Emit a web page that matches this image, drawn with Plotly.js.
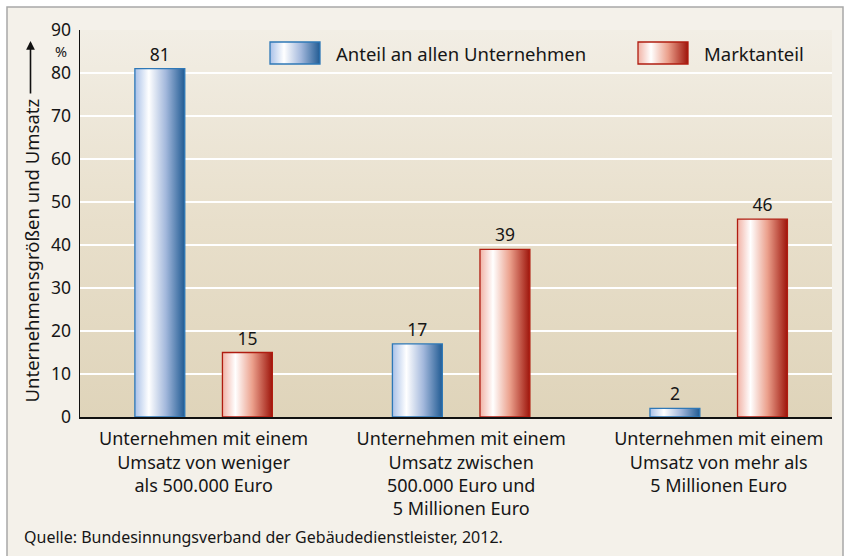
<!DOCTYPE html>
<html><head><meta charset="utf-8">
<script src="https://cdn.plot.ly/plotly-3.0.1.min.js"></script>
<style>html,body{margin:0;padding:0;background:#fff;} #chart{width:847px;height:556px;}</style>
</head><body><div id="chart"></div>
<script>
// ---- data ----
const categories = [
  "Unternehmen mit einem<br>Umsatz von weniger<br>als 500.000 Euro",
  "Unternehmen mit einem<br>Umsatz zwischen<br>500.000 Euro und<br>5 Millionen Euro",
  "Unternehmen mit einem<br>Umsatz von mehr als<br>5 Millionen Euro"
];
const anteilValues = [81, 17, 2];
const marktanteilValues = [15, 39, 46];
const seriesNames = ["Anteil an allen Unternehmen", "Marktanteil"];
const yTickValues = [0, 10, 20, 30, 40, 50, 60, 70, 80, 90];
const yUnit = "%";
const yAxisTitle = "Unternehmensgrößen und Umsatz";
const sourceNote = "Quelle: Bundesinnungsverband der Gebäudedienstleister, 2012.";

// ---- layout helpers (pixel -> paper) ----
const M = {l: 80, r: 15, t: 30, b: 139};
const W = 847, H = 556;
const PW = W - M.l - M.r, PH = H - M.t - M.b;
const px = x => (x - M.l) / PW;
const py = y => (H - M.b - y) / PH;

const FONT = '"Noto Sans", "Open Sans", sans-serif';
const TXT = '#161616';

const data = [
  {type: 'bar', name: seriesNames[0], x: categories, y: anteilValues,
   marker: {color: '#8eaad6', line: {color: '#2e78b7', width: 1.3}},
   texttemplate: '%{y}', textposition: 'outside', cliponaxis: false,
   textfont: {family: FONT, size: 17.5, color: TXT}, showlegend: false},
  {type: 'bar', name: seriesNames[1], x: categories, y: marktanteilValues,
   marker: {color: '#e0907c', line: {color: '#b01c10', width: 1.3}},
   texttemplate: '%{y}', textposition: 'outside', cliponaxis: false,
   textfont: {family: FONT, size: 17.5, color: TXT}, showlegend: false}
];

const layout = {
  width: W, height: H,
  margin: M,
  paper_bgcolor: '#f4f1ea',
  plot_bgcolor: '#e8e0cd',
  font: {family: FONT, size: 17.5, color: TXT},
  barmode: 'group', bargap: 0.32, bargroupgap: 0.43,
  showlegend: false,
  xaxis: {type: 'category', range: [-0.48, 2.44], showline: true, linecolor: '#111', linewidth: 1.5,
          ticks: '', showgrid: false, zeroline: false, automargin: false, ticklabelstandoff: 5,
          tickfont: {family: FONT, size: 18, color: TXT}},
  yaxis: {range: [0, 90], tickvals: yTickValues, showline: true, linecolor: '#111', linewidth: 1.5,
          ticks: '', showgrid: true, gridcolor: '#ffffff', gridwidth: 1.5, zeroline: false, automargin: false,
          tickfont: {family: FONT, size: 17.5, color: TXT}, ticklabelstandoff: 4},
  shapes: [
    // legend swatches (0,1)
    {type: 'rect', xref: 'paper', yref: 'paper', x0: px(270), x1: px(320), y0: py(64), y1: py(42),
     fillcolor: '#8eaad6', line: {color: '#2e78b7', width: 1.3}, layer: 'above'},
    {type: 'rect', xref: 'paper', yref: 'paper', x0: px(638), x1: px(688), y0: py(64), y1: py(42),
     fillcolor: '#e0907c', line: {color: '#b01c10', width: 1.3}, layer: 'above'},
    // white surroundings outside the frame
    {type: 'rect', xref: 'paper', yref: 'paper', x0: px(-2), x1: px(7), y0: py(H + 2), y1: py(-2),
     fillcolor: '#ffffff', line: {width: 0}, layer: 'above'},
    {type: 'rect', xref: 'paper', yref: 'paper', x0: px(-2), x1: px(W + 2), y0: py(7), y1: py(-2),
     fillcolor: '#ffffff', line: {width: 0}, layer: 'above'},
    {type: 'rect', xref: 'paper', yref: 'paper', x0: px(843), x1: px(W + 2), y0: py(H + 2), y1: py(-2),
     fillcolor: '#ffffff', line: {width: 0}, layer: 'above'},
    // frame
    {type: 'rect', xref: 'paper', yref: 'paper', x0: px(7), x1: px(843), y0: py(H + 10), y1: py(7),
     fillcolor: 'rgba(0,0,0,0)', line: {color: '#a8a8a8', width: 1.5}, layer: 'above'}
  ],
  annotations: [
    {xref: 'paper', yref: 'paper', x: px(334), y: py(53), xanchor: 'left', yanchor: 'middle',
     text: seriesNames[0], showarrow: false, font: {family: FONT, size: 18.5, color: TXT}},
    {xref: 'paper', yref: 'paper', x: px(702), y: py(53), xanchor: 'left', yanchor: 'middle',
     text: seriesNames[1], showarrow: false, font: {family: FONT, size: 18.5, color: TXT}},
    {xref: 'paper', yref: 'paper', x: px(61), y: py(51), xanchor: 'center', yanchor: 'middle', borderpad: 0,
     text: yUnit, showarrow: false, font: {family: FONT, size: 14.5, color: TXT}},
    {xref: 'paper', yref: 'paper', x: px(30.5), y: py(41), ax: 0, ay: 251 - 41,
     text: yAxisTitle, textangle: -90, showarrow: true, arrowhead: 2, arrowsize: 1.1, arrowwidth: 1.6,
     arrowcolor: '#111', borderpad: 5, font: {family: FONT, size: 18.5, color: TXT}},
    {xref: 'paper', yref: 'paper', x: px(22), y: py(537), xanchor: 'left', yanchor: 'middle',
     text: sourceNote, showarrow: false, font: {family: FONT, size: 16, color: TXT}}
  ]
};

Plotly.newPlot('chart', data, layout, {staticPlot: true}).then(function (gd) {
  const ns = 'http://www.w3.org/2000/svg';
  const svg = gd.querySelector('svg.main-svg');
  const defs = document.createElementNS(ns, 'defs');
  svg.insertBefore(defs, svg.firstChild);
  function grad(id, stops, vertical) {
    const g = document.createElementNS(ns, 'linearGradient');
    g.setAttribute('id', id);
    g.setAttribute('x1', '0'); g.setAttribute('y1', '0');
    g.setAttribute('x2', vertical ? '0' : '1'); g.setAttribute('y2', vertical ? '1' : '0');
    stops.forEach(function (s) {
      const st = document.createElementNS(ns, 'stop');
      st.setAttribute('offset', s[0]); st.setAttribute('stop-color', s[1]);
      g.appendChild(st);
    });
    defs.appendChild(g);
  }
  grad('gBlue', [[0, '#a9c1e8'], [0.28, '#ffffff'], [0.62, '#a3b8dc'], [1, '#215b93']]);
  grad('gRed', [[0, '#f1b3a6'], [0.26, '#ffffff'], [0.6, '#eba08c'], [1, '#9e150b']]);
  grad('gBg', [[0, '#f2eee5'], [0.5, '#e8dfcb'], [1, '#dfd4ba']], true);

  gd.querySelectorAll('.barlayer .trace').forEach(function (tr, i) {
    tr.querySelectorAll('.point path').forEach(function (p) {
      p.style.fill = i === 0 ? 'url(#gBlue)' : 'url(#gRed)';
    });
  });
  gd.querySelectorAll('.shapelayer path').forEach(function (p) {
    const idx = p.getAttribute('data-index');
    if (idx === '0') p.style.fill = 'url(#gBlue)';
    if (idx === '1') p.style.fill = 'url(#gRed)';
  });
  gd.querySelectorAll('rect.bg').forEach(function (r) { r.style.fill = 'url(#gBg)'; });
});
</script>
</body></html>
